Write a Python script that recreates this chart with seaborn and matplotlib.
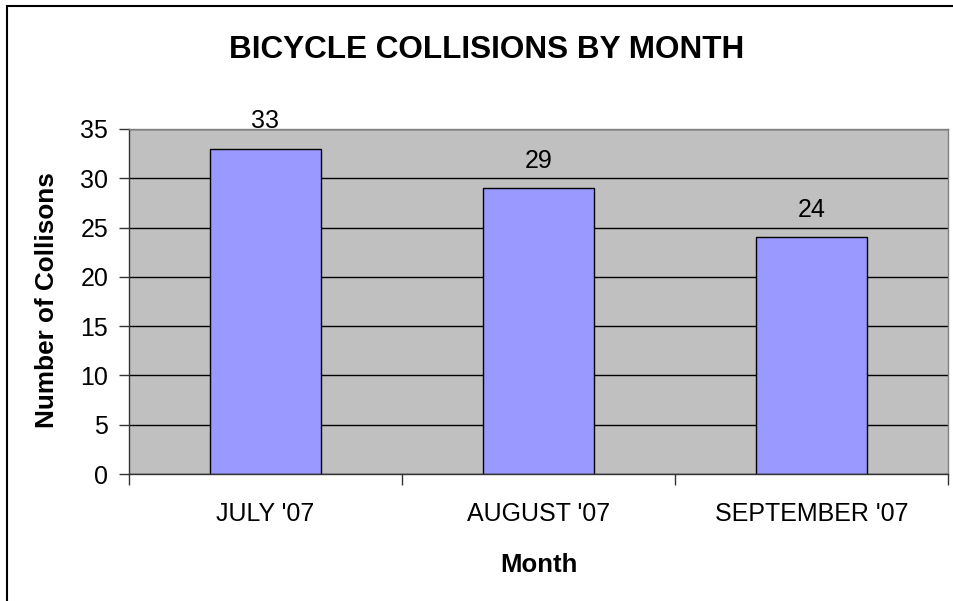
import matplotlib
matplotlib.use("Agg")
import matplotlib.pyplot as plt
import seaborn as sns
import pandas as pd
from matplotlib.patches import Rectangle

months = ["JULY '07", "AUGUST '07", "SEPTEMBER '07"]
collisions = [33, 29, 24]
y_ticks = [0, 5, 10, 15, 20, 25, 30, 35]

df = pd.DataFrame({"Month": months, "Collisions": collisions})

sns.set_style("white")
plt.rcParams['font.family'] = ['Liberation Sans', 'DejaVu Sans']
plt.rcParams['text.color'] = 'black'
plt.rcParams['axes.labelcolor'] = 'black'
plt.rcParams['xtick.color'] = 'black'
plt.rcParams['ytick.color'] = 'black'

fig = plt.figure(figsize=(9.54, 6.01), dpi=100)
ax = fig.add_axes([129/954, 1-474/601, (948-129)/954, (474-129)/601])

sns.barplot(data=df, x="Month", y="Collisions", ax=ax, color="#9999FF",
            width=0.403, edgecolor="black", linewidth=1.0, saturation=1)

ax.set_facecolor("#C0C0C0")
ax.set_ylim(0, 35)
ax.set_xlim(-0.5, len(months) - 0.5)
ax.set_yticks(y_ticks)
ax.set_yticklabels([str(t) for t in y_ticks], fontsize=18)
ax.yaxis.grid(True, color="black", linewidth=1.0)
ax.set_axisbelow(True)

# category boundary ticks (major, no labels) and centered labels (minor)
ax.set_xticks([i - 0.5 for i in range(len(months) + 1)])
ax.set_xticklabels([])
ax.set_xticks(range(len(months)), minor=True)
ax.set_xticklabels(months, minor=True, fontsize=18)
ax.tick_params(axis="x", which="minor", length=0, pad=20, labelcolor="black")
ax.tick_params(axis="x", which="major", direction="out", length=8, width=1, color="#333333")
ax.tick_params(axis="y", direction="out", length=7, width=1, color="#333333", pad=8, labelcolor="black")
ax.tick_params(bottom=True, left=True)

for s in ["top", "right"]:
    ax.spines[s].set_color("#808080")
    ax.spines[s].set_linewidth(1.0)
for s in ["left", "bottom"]:
    ax.spines[s].set_color("#333333")
    ax.spines[s].set_linewidth(1.0)

ax.bar_label(ax.containers[0], labels=[str(v) for v in collisions], padding=11,
             fontsize=18, color="black")

ax.set_xlabel("")
ax.set_ylabel("")
fig.text(538.5/954, 1-565/601, "Month", ha="center", va="center", fontsize=18.5,
         fontweight="bold", color="black")
fig.text(47/954, 1-300/601, "Number of Collisons", ha="center", va="center", rotation=90,
         fontsize=18.8, fontweight="bold", color="black")
fig.text(487/954, 1-50/601, "BICYCLE COLLISIONS BY MONTH", ha="center", va="center",
         fontsize=22.7, fontweight="bold", color="black")

fig.patches.append(Rectangle((7/954, -0.05), 1.05, 1 - 6/601 + 0.05, transform=fig.transFigure,
                             fill=False, edgecolor="black", linewidth=1.5, figure=fig))

fig.savefig("out.png", dpi=100)
